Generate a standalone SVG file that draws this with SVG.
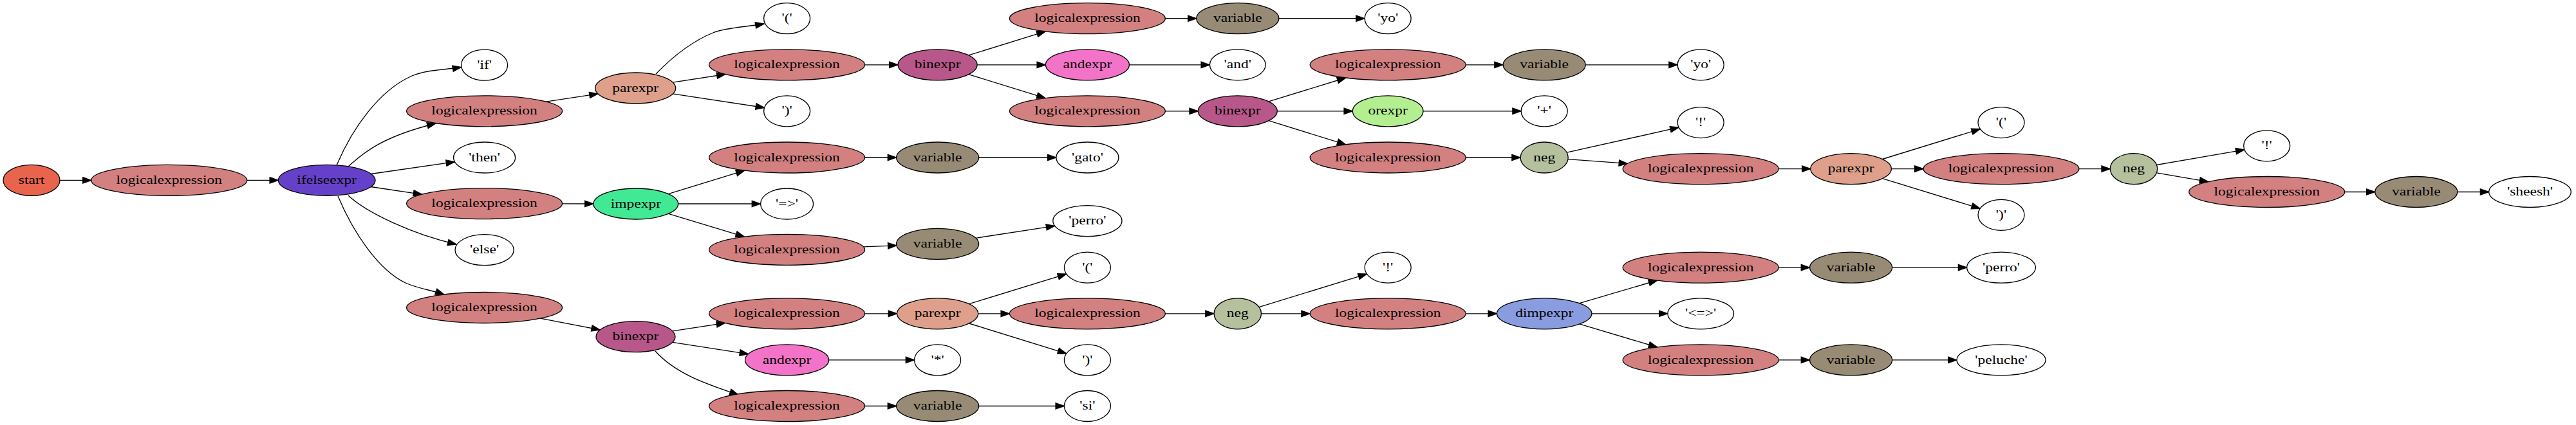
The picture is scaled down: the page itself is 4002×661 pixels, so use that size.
<svg xmlns="http://www.w3.org/2000/svg" width="4002" height="661" viewBox="0 0 4002 661">
<style>
.node ellipse{stroke:#000;stroke-width:1.33}
.node text{font-family:"Liberation Serif","Times New Roman",serif;font-size:18.67px;text-anchor:middle;fill:#000}
.le{fill:#d38080}.var{fill:#988b76}.bin{fill:#b85789}.and{fill:#f273c7}.or{fill:#b3ef91}
.neg{fill:#b5c09d}.par{fill:#dea08b}.imp{fill:#41e995}.ife{fill:#6540c8}.st{fill:#e8644c}
.dimp{fill:#8a9ce0}.tok{fill:#ffffff}
#edges path{fill:none;stroke:#000;stroke-width:1.33;marker-end:url(#arr)}
</style>
<defs>
<marker id="arr" markerUnits="userSpaceOnUse" markerWidth="16" markerHeight="12" viewBox="-1 -1 16 12" refX="13.3" refY="4.67" orient="auto">
<path d="M0,0 L13.3,4.67 L0,9.33 Z" fill="#000" stroke="#000" stroke-width="1.33"/>
</marker>
</defs>
<rect width="4002" height="661" fill="#fff"/>
<g id="edges">
<path d="M93,280.4 L141.8,280.4"/>
<path d="M383.8,280.4 L432.4,280.4"/>
<path d="M523,257 C548,198 590,140 640,118 C664,108 690,109 716.6,104.5"/>
<path d="M541,259 C566,236 596,212 677,192"/>
<path d="M576.3,270.5 L706.5,251.7"/>
<path d="M576,290.5 L655.6,302.3"/>
<path d="M541,304 C570,331 640,364 709,380"/>
<path d="M525,305 C549,362 588,420 630,440 C650,449 670,451 690,458"/>
<path d="M848.5,158.2 L929.1,145.9"/>
<path d="M873.6,316.8 L922,317"/>
<path d="M839.5,495.2 L932.3,513"/>
<path d="M1019,115 C1045,88 1075,64 1110,50 C1130,43 1158,42 1187,37"/>
<path d="M1045.2,128.1 L1127,115.5"/>
<path d="M1045.2,145.8 L1187.5,167.5"/>
<path d="M1343.6,100.8 L1395.1,100.8"/>
<path d="M1504.8,85.9 L1624.1,48.9"/>
<path d="M1518.1,100.8 L1624.4,100.8"/>
<path d="M1504.8,115.7 L1624.1,152.6"/>
<path d="M1810.4,28.7 L1858.8,28.7"/>
<path d="M1986.8,28.7 L2120.2,28.7"/>
<path d="M1754.4,100.8 L1879.4,100.8"/>
<path d="M1810.4,172.8 L1861.3,172.8"/>
<path d="M1971,157.9 L2090.8,121"/>
<path d="M1984.3,172.8 L2101.4,172.8"/>
<path d="M1971,187.7 L2090.8,224.8"/>
<path d="M2277.2,100.8 L2335.2,100.8"/>
<path d="M2463.2,100.8 L2606.2,100.8"/>
<path d="M2211,172.8 L2363.2,172.8"/>
<path d="M2277.2,245 L2362.2,245"/>
<path d="M2434.2,237.2 L2608.1,198.2"/>
<path d="M2436,247.7 L2528.5,254.4"/>
<path d="M2763.2,262.6 L2812.8,262.6"/>
<path d="M2924.5,247.5 L3076.3,200.7"/>
<path d="M2938.4,262.6 L2988,262.6"/>
<path d="M2924.5,277.6 L3076.3,324.3"/>
<path d="M3230,262.6 L3278.3,262.6"/>
<path d="M3350.5,256.5 L3486.9,232.8"/>
<path d="M3350.5,268.8 L3430.7,282.7"/>
<path d="M3642.7,298.5 L3689.8,298.5"/>
<path d="M3817.8,298.5 L3866.7,298.5"/>
<path d="M1038.2,301.6 L1156.9,265.2"/>
<path d="M1053.6,317 L1181.6,317"/>
<path d="M1038.4,332.4 L1156.4,368.2"/>
<path d="M1343.6,245 L1392.6,245"/>
<path d="M1520.6,245 L1640.9,245"/>
<path d="M1341.4,383.8 L1392.9,381.8"/>
<path d="M1515.8,370.3 L1638.7,351.4"/>
<path d="M1044.8,514.9 L1126.6,502.4"/>
<path d="M1044.7,532.4 L1162.6,550.6"/>
<path d="M1018,546 C1050,582 1100,598 1147,614"/>
<path d="M1343.6,487.8 L1393.6,487.8"/>
<path d="M1505.6,472.7 L1656.7,426.2"/>
<path d="M1519.6,487.8 L1568.4,487.8"/>
<path d="M1505.6,503 L1656.7,549.8"/>
<path d="M1810.4,487.8 L1886.1,487.8"/>
<path d="M1956,477.6 L2123.5,426.1"/>
<path d="M1959.5,487.8 L2035.2,487.8"/>
<path d="M2277.2,487.8 L2325.5,487.8"/>
<path d="M2453.8,471.7 L2574.7,436"/>
<path d="M2472.9,487.8 L2590.9,487.8"/>
<path d="M2453.8,503.9 L2574.7,540"/>
<path d="M2763.2,416.1 L2811.6,416.1"/>
<path d="M2939.6,416.1 L3055.7,416.1"/>
<path d="M2763.2,559.9 L2811.6,559.9"/>
<path d="M2939.6,559.9 L3040,559.9"/>
<path d="M1287.6,559.9 L1420.6,559.9"/>
<path d="M1343.6,631.5 L1392.6,631.5"/>
<path d="M1520.6,631.5 L1653.4,631.5"/>
</g>
<g id="n0" class="node" transform="translate(49,280.4)"><ellipse class="st" rx="44" ry="24"/><text y="5.6" transform="scale(1.26,1)">start</text></g>
<g id="n1" class="node" transform="translate(262.8,280.4)"><ellipse class="le" rx="121" ry="24"/><text y="5.6" transform="scale(1.26,1)">logicalexpression</text></g>
<g id="n2" class="node" transform="translate(507.7,280.4)"><ellipse class="ife" rx="75.3" ry="24"/><text y="5.6" transform="scale(1.26,1)">ifelseexpr</text></g>
<g id="n3" class="node" transform="translate(752.6,101.2)"><ellipse class="tok" rx="36" ry="24"/><text y="5.6" transform="scale(1.26,1)">'if'</text></g>
<g id="n4" class="node" transform="translate(752.6,172.8)"><ellipse class="le" rx="121" ry="24"/><text y="5.6" transform="scale(1.26,1)">logicalexpression</text></g>
<g id="n5" class="node" transform="translate(752.6,245)"><ellipse class="tok" rx="48" ry="24"/><text y="5.6" transform="scale(1.26,1)">'then'</text></g>
<g id="n6" class="node" transform="translate(752.6,316.6)"><ellipse class="le" rx="121" ry="24"/><text y="5.6" transform="scale(1.26,1)">logicalexpression</text></g>
<g id="n7" class="node" transform="translate(752.6,388.7)"><ellipse class="tok" rx="45.6" ry="24"/><text y="5.6" transform="scale(1.26,1)">'else'</text></g>
<g id="n8" class="node" transform="translate(752.6,478.5)"><ellipse class="le" rx="121" ry="24"/><text y="5.6" transform="scale(1.26,1)">logicalexpression</text></g>
<g id="n9" class="node" transform="translate(987.2,137)"><ellipse class="par" rx="62.5" ry="24"/><text y="5.6" transform="scale(1.26,1)">parexpr</text></g>
<g id="n10" class="node" transform="translate(1222.6,28.7)"><ellipse class="tok" rx="36" ry="24"/><text y="5.6" transform="scale(1.26,1)">'('</text></g>
<g id="n11" class="node" transform="translate(1222.6,100.8)"><ellipse class="le" rx="121" ry="24"/><text y="5.6" transform="scale(1.26,1)">logicalexpression</text></g>
<g id="n12" class="node" transform="translate(1222.6,172.8)"><ellipse class="tok" rx="36" ry="24"/><text y="5.6" transform="scale(1.26,1)">')'</text></g>
<g id="n13" class="node" transform="translate(1456.6,100.8)"><ellipse class="bin" rx="61.5" ry="24"/><text y="5.6" transform="scale(1.26,1)">binexpr</text></g>
<g id="n14" class="node" transform="translate(1689.4,28.7)"><ellipse class="le" rx="121" ry="24"/><text y="5.6" transform="scale(1.26,1)">logicalexpression</text></g>
<g id="n15" class="node" transform="translate(1922.8,28.7)"><ellipse class="var" rx="64" ry="24"/><text y="5.6" transform="scale(1.26,1)">variable</text></g>
<g id="n16" class="node" transform="translate(2156.2,28.7)"><ellipse class="tok" rx="36" ry="24"/><text y="5.6" transform="scale(1.26,1)">'yo'</text></g>
<g id="n17" class="node" transform="translate(1689.4,100.8)"><ellipse class="and" rx="65" ry="24"/><text y="5.6" transform="scale(1.26,1)">andexpr</text></g>
<g id="n18" class="node" transform="translate(1922.8,100.8)"><ellipse class="tok" rx="43.4" ry="24"/><text y="5.6" transform="scale(1.26,1)">'and'</text></g>
<g id="n19" class="node" transform="translate(1689.4,172.8)"><ellipse class="le" rx="121" ry="24"/><text y="5.6" transform="scale(1.26,1)">logicalexpression</text></g>
<g id="n20" class="node" transform="translate(1922.8,172.8)"><ellipse class="bin" rx="61.5" ry="24"/><text y="5.6" transform="scale(1.26,1)">binexpr</text></g>
<g id="n21" class="node" transform="translate(2156.2,100.8)"><ellipse class="le" rx="121" ry="24"/><text y="5.6" transform="scale(1.26,1)">logicalexpression</text></g>
<g id="n22" class="node" transform="translate(2399.2,100.8)"><ellipse class="var" rx="64" ry="24"/><text y="5.6" transform="scale(1.26,1)">variable</text></g>
<g id="n23" class="node" transform="translate(2642.2,100.8)"><ellipse class="tok" rx="36" ry="24"/><text y="5.6" transform="scale(1.26,1)">'yo'</text></g>
<g id="n24" class="node" transform="translate(2156.2,172.8)"><ellipse class="or" rx="54.8" ry="24"/><text y="5.6" transform="scale(1.26,1)">orexpr</text></g>
<g id="n25" class="node" transform="translate(2399.2,172.8)"><ellipse class="tok" rx="36" ry="24"/><text y="5.6" transform="scale(1.26,1)">'+'</text></g>
<g id="n26" class="node" transform="translate(2156.2,245)"><ellipse class="le" rx="121" ry="24"/><text y="5.6" transform="scale(1.26,1)">logicalexpression</text></g>
<g id="n27" class="node" transform="translate(2399.2,245)"><ellipse class="neg" rx="37" ry="24"/><text y="5.6" transform="scale(1.26,1)">neg</text></g>
<g id="n28" class="node" transform="translate(2642.2,190.6)"><ellipse class="tok" rx="36" ry="24"/><text y="5.6" transform="scale(1.26,1)">'!'</text></g>
<g id="n29" class="node" transform="translate(2642.2,262.6)"><ellipse class="le" rx="121" ry="24"/><text y="5.6" transform="scale(1.26,1)">logicalexpression</text></g>
<g id="n30" class="node" transform="translate(2875.6,262.6)"><ellipse class="par" rx="62.8" ry="24"/><text y="5.6" transform="scale(1.26,1)">parexpr</text></g>
<g id="n31" class="node" transform="translate(3109,190.6)"><ellipse class="tok" rx="36" ry="24"/><text y="5.6" transform="scale(1.26,1)">'('</text></g>
<g id="n32" class="node" transform="translate(3109,262.6)"><ellipse class="le" rx="121" ry="24"/><text y="5.6" transform="scale(1.26,1)">logicalexpression</text></g>
<g id="n33" class="node" transform="translate(3109,334.3)"><ellipse class="tok" rx="36" ry="24"/><text y="5.6" transform="scale(1.26,1)">')'</text></g>
<g id="n34" class="node" transform="translate(3315,262.6)"><ellipse class="neg" rx="36.7" ry="24"/><text y="5.6" transform="scale(1.26,1)">neg</text></g>
<g id="n35" class="node" transform="translate(3521.7,226.8)"><ellipse class="tok" rx="36" ry="24"/><text y="5.6" transform="scale(1.26,1)">'!'</text></g>
<g id="n36" class="node" transform="translate(3521.7,298.5)"><ellipse class="le" rx="121" ry="24"/><text y="5.6" transform="scale(1.26,1)">logicalexpression</text></g>
<g id="n37" class="node" transform="translate(3753.8,298.5)"><ellipse class="var" rx="64" ry="24"/><text y="5.6" transform="scale(1.26,1)">variable</text></g>
<g id="n38" class="node" transform="translate(3930.5,298.5)"><ellipse class="tok" rx="63.8" ry="24"/><text y="5.6" transform="scale(1.26,1)">'sheesh'</text></g>
<g id="n39" class="node" transform="translate(987.8,317)"><ellipse class="imp" rx="65.8" ry="24"/><text y="5.6" transform="scale(1.26,1)">impexpr</text></g>
<g id="n40" class="node" transform="translate(1222.6,245)"><ellipse class="le" rx="121" ry="24"/><text y="5.6" transform="scale(1.26,1)">logicalexpression</text></g>
<g id="n41" class="node" transform="translate(1456.6,245)"><ellipse class="var" rx="64" ry="24"/><text y="5.6" transform="scale(1.26,1)">variable</text></g>
<g id="n42" class="node" transform="translate(1689.4,245)"><ellipse class="tok" rx="48.5" ry="24"/><text y="5.6" transform="scale(1.26,1)">'gato'</text></g>
<g id="n43" class="node" transform="translate(1222.6,317)"><ellipse class="tok" rx="41" ry="24"/><text y="5.6" transform="scale(1.26,1)">'=&gt;'</text></g>
<g id="n44" class="node" transform="translate(1222.6,388.3)"><ellipse class="le" rx="121" ry="24"/><text y="5.6" transform="scale(1.26,1)">logicalexpression</text></g>
<g id="n45" class="node" transform="translate(1456.6,379.4)"><ellipse class="var" rx="64" ry="24"/><text y="5.6" transform="scale(1.26,1)">variable</text></g>
<g id="n46" class="node" transform="translate(1689.4,343.6)"><ellipse class="tok" rx="53.6" ry="24"/><text y="5.6" transform="scale(1.26,1)">'perro'</text></g>
<g id="n47" class="node" transform="translate(987.5,523.6)"><ellipse class="bin" rx="61.5" ry="24"/><text y="5.6" transform="scale(1.26,1)">binexpr</text></g>
<g id="n48" class="node" transform="translate(1222.6,487.8)"><ellipse class="le" rx="121" ry="24"/><text y="5.6" transform="scale(1.26,1)">logicalexpression</text></g>
<g id="n49" class="node" transform="translate(1456.6,487.8)"><ellipse class="par" rx="63" ry="24"/><text y="5.6" transform="scale(1.26,1)">parexpr</text></g>
<g id="n50" class="node" transform="translate(1689.4,416.1)"><ellipse class="tok" rx="36" ry="24"/><text y="5.6" transform="scale(1.26,1)">'('</text></g>
<g id="n51" class="node" transform="translate(1689.4,487.8)"><ellipse class="le" rx="121" ry="24"/><text y="5.6" transform="scale(1.26,1)">logicalexpression</text></g>
<g id="n52" class="node" transform="translate(1689.4,559.9)"><ellipse class="tok" rx="36" ry="24"/><text y="5.6" transform="scale(1.26,1)">')'</text></g>
<g id="n53" class="node" transform="translate(1922.8,487.8)"><ellipse class="neg" rx="36.7" ry="24"/><text y="5.6" transform="scale(1.26,1)">neg</text></g>
<g id="n54" class="node" transform="translate(2156.2,416.1)"><ellipse class="tok" rx="36" ry="24"/><text y="5.6" transform="scale(1.26,1)">'!'</text></g>
<g id="n55" class="node" transform="translate(2156.2,487.8)"><ellipse class="le" rx="121" ry="24"/><text y="5.6" transform="scale(1.26,1)">logicalexpression</text></g>
<g id="n56" class="node" transform="translate(2399.2,487.8)"><ellipse class="dimp" rx="73.7" ry="24"/><text y="5.6" transform="scale(1.26,1)">dimpexpr</text></g>
<g id="n57" class="node" transform="translate(2642.2,416.1)"><ellipse class="le" rx="121" ry="24"/><text y="5.6" transform="scale(1.26,1)">logicalexpression</text></g>
<g id="n58" class="node" transform="translate(2875.6,416.1)"><ellipse class="var" rx="64" ry="24"/><text y="5.6" transform="scale(1.26,1)">variable</text></g>
<g id="n59" class="node" transform="translate(3109,416.1)"><ellipse class="tok" rx="53.3" ry="24"/><text y="5.6" transform="scale(1.26,1)">'perro'</text></g>
<g id="n60" class="node" transform="translate(2642.2,487.8)"><ellipse class="tok" rx="51.3" ry="24"/><text y="5.6" transform="scale(1.26,1)">'&lt;=&gt;'</text></g>
<g id="n61" class="node" transform="translate(2642.2,559.9)"><ellipse class="le" rx="121" ry="24"/><text y="5.6" transform="scale(1.26,1)">logicalexpression</text></g>
<g id="n62" class="node" transform="translate(2875.6,559.9)"><ellipse class="var" rx="64" ry="24"/><text y="5.6" transform="scale(1.26,1)">variable</text></g>
<g id="n63" class="node" transform="translate(3109,559.9)"><ellipse class="tok" rx="69" ry="24"/><text y="5.6" transform="scale(1.26,1)">'peluche'</text></g>
<g id="n64" class="node" transform="translate(1222.6,559.9)"><ellipse class="and" rx="65" ry="24"/><text y="5.6" transform="scale(1.26,1)">andexpr</text></g>
<g id="n65" class="node" transform="translate(1456.6,559.9)"><ellipse class="tok" rx="36" ry="24"/><text y="5.6" transform="scale(1.26,1)">'*'</text></g>
<g id="n66" class="node" transform="translate(1222.6,631.5)"><ellipse class="le" rx="121" ry="24"/><text y="5.6" transform="scale(1.26,1)">logicalexpression</text></g>
<g id="n67" class="node" transform="translate(1456.6,631.5)"><ellipse class="var" rx="64" ry="24"/><text y="5.6" transform="scale(1.26,1)">variable</text></g>
<g id="n68" class="node" transform="translate(1689.4,631.5)"><ellipse class="tok" rx="36" ry="24"/><text y="5.6" transform="scale(1.26,1)">'si'</text></g>
</svg>
